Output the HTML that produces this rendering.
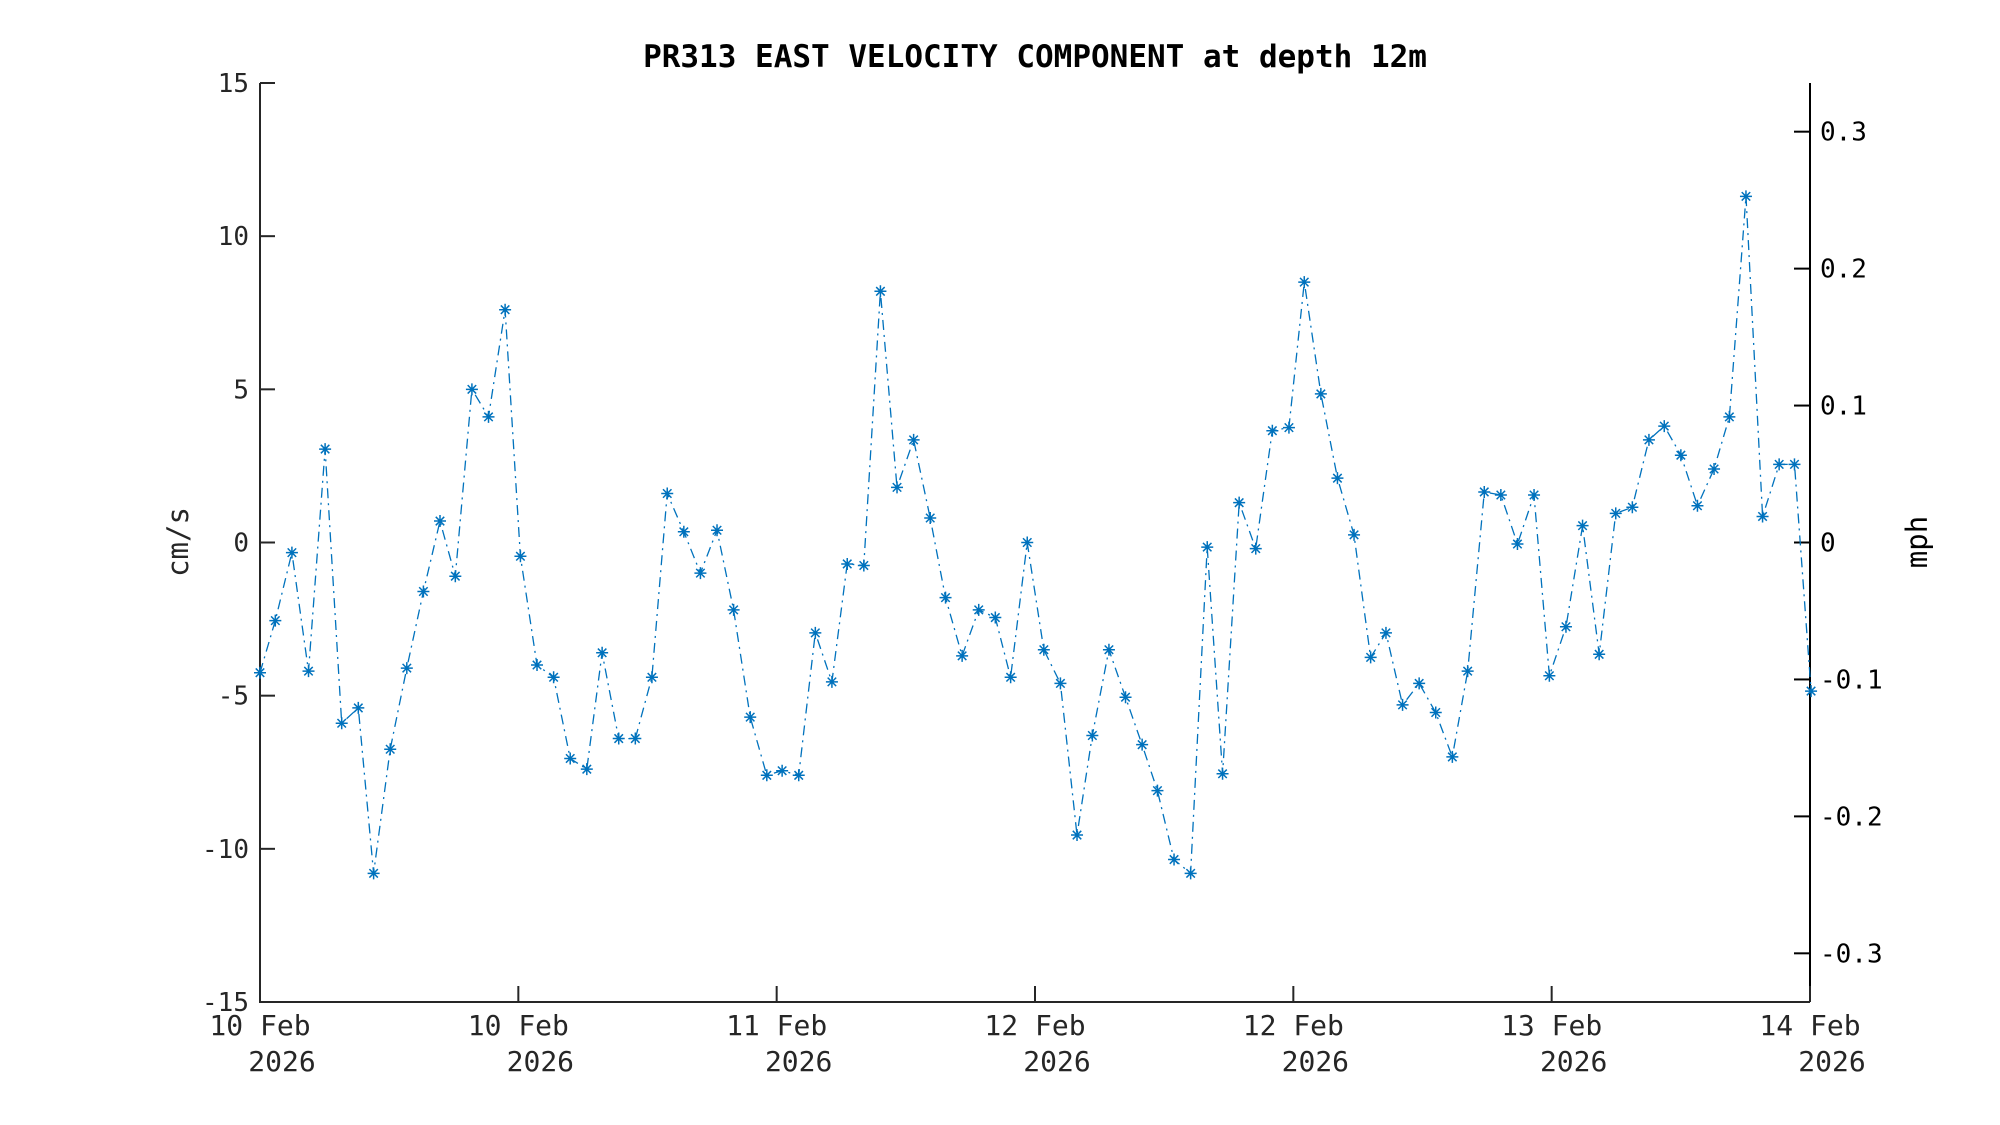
<!DOCTYPE html>
<html><head><meta charset="utf-8"><style>
html,body{margin:0;padding:0;background:#fff;}
svg{display:block;}
text{font-family:"DejaVu Sans Mono","Liberation Mono",monospace;}
</style></head><body>
<svg id="s" width="2000" height="1125" xmlns="http://www.w3.org/2000/svg">
<rect width="2000" height="1125" fill="#fff"/>
<text x="1035" y="67" text-anchor="middle" font-size="31" font-weight="bold" fill="#000">PR313 EAST VELOCITY COMPONENT at depth 12m</text>
<g id="ax" stroke="#262626" stroke-width="2" fill="none"></g>
<g id="lab" font-size="26" fill="#262626"></g>
<g id="data"></g>
<text transform="translate(188,542) rotate(-90)" text-anchor="middle" font-size="29" fill="#262626">cm/s</text>
<text transform="translate(1927,542) rotate(-90)" text-anchor="middle" font-size="29" fill="#000">mph</text>
</svg>
<script>
var NS="http://www.w3.org/2000/svg";
function el(p,t,a,txt){var e=document.createElementNS(NS,t);for(var k in a)e.setAttribute(k,a[k]);if(txt!=null)e.textContent=txt;p.appendChild(e);return e;}
var L=260,R=1810,T=83,B=1002;
function Y(v){return 542.5-v*30.633;}
var ax=document.getElementById('ax'),lab=document.getElementById('lab'),data=document.getElementById('data');
el(ax,'path',{d:'M'+L+' '+T+'V'+B+'H'+R});
el(ax,'path',{d:'M'+R+' '+T+'V'+B,stroke:'#000'});
for(var v=-15;v<=15;v+=5){var y=Y(v);el(ax,'path',{d:'M'+L+' '+y+'h15'});
 el(lab,'text',{x:249,y:y+9,'text-anchor':'end'},v);}
var mv=[0.3,0.2,0.1,0,-0.1,-0.2,-0.3];
mv.forEach(function(m){var y=Y(m*44.704);el(ax,'path',{d:'M'+R+' '+y+'h-16',stroke:'#000'});
 var s=m==0?'0':m.toFixed(1);el(lab,'text',{x:1820,y:y+9,fill:'#000'},s);});
var xl=['10 Feb','10 Feb','11 Feb','12 Feb','12 Feb','13 Feb','14 Feb'];
for(var i=0;i<7;i++){var x=L+i*1550/6;el(ax,'path',{d:'M'+x+' '+B+'v-16'});
 el(lab,'text',{x:x,y:1035,'text-anchor':'middle','font-size':28},xl[i]);
 el(lab,'text',{x:x+22,y:1071,'text-anchor':'middle','font-size':28},'2026');}
var pts=[[204,-4.25],[216,-2.55],[229,-0.33],[242,-4.2],[255,3.05],[268,-5.9],[281,-5.4],[293,-10.8],[306,-6.75],[319,-4.1],[332,-1.6],[345,0.7],[357,-1.1],[370,5.0],[383,4.1],[396,7.6],[408,-0.45],[421,-4.0],[434,-4.4],[447,-7.05],[460,-7.4],[472,-3.6],[485,-6.4],[498,-6.4],[511,-4.4],[523,1.6],[536,0.35],[549,-1.0],[562,0.4],[575,-2.2],[588,-5.7],[601,-7.6],[613,-7.45],[626,-7.6],[639,-2.95],[652,-4.55],[664,-0.7],[677,-0.75],[690,8.2],[703,1.8],[716,3.35],[729,0.8],[741,-1.8],[754,-3.7],[767,-2.2],[780,-2.45],[792,-4.4],[805,0.0],[818,-3.5],[831,-4.6],[844,-9.55],[856,-6.3],[869,-3.5],[882,-5.05],[895,-6.6],[907,-8.1],[920,-10.35],[933,-10.8],[946,-0.15],[958,-7.55],[971,1.3],[984,-0.2],[997,3.65],[1010,3.75],[1022,8.5],[1035,4.85],[1048,2.1],[1061,0.25],[1074,-3.75],[1086,-2.95],[1099,-5.3],[1112,-4.6],[1125,-5.55],[1138,-7.0],[1150,-4.2],[1163,1.65],[1176,1.55],[1189,-0.05],[1202,1.55],[1214,-4.35],[1227,-2.75],[1240,0.55],[1253,-3.65],[1266,0.95],[1279,1.15],[1292,3.35],[1304,3.8],[1317,2.85],[1330,1.2],[1343,2.4],[1355,4.1],[1368,11.3],[1381,0.85],[1394,2.55],[1406,2.55],[1419,-4.85]];
var d='';pts.forEach(function(p,i){var x=L+(p[0]-204)*1.2766,y=Y(p[1]);p.x=x;p.y=y;d+=(i?'L':'M')+x.toFixed(1)+' '+y.toFixed(1);});
el(data,'path',{d:d,fill:'none',stroke:'#0072BD','stroke-width':1.3,'stroke-dasharray':'10 5 2 5'});
pts.forEach(function(p){var r=6,x=p.x,y=p.y,a=r*0.707;
 el(data,'path',{d:'M'+(x-r)+' '+y+'h'+2*r+'M'+x+' '+(y-r)+'v'+2*r+'M'+(x-a)+' '+(y-a)+'l'+2*a+' '+2*a+'M'+(x-a)+' '+(y+a)+'l'+2*a+' '+(-2*a),stroke:'#0072BD','stroke-width':1.5,fill:'none'});});
</script>
</body></html>
